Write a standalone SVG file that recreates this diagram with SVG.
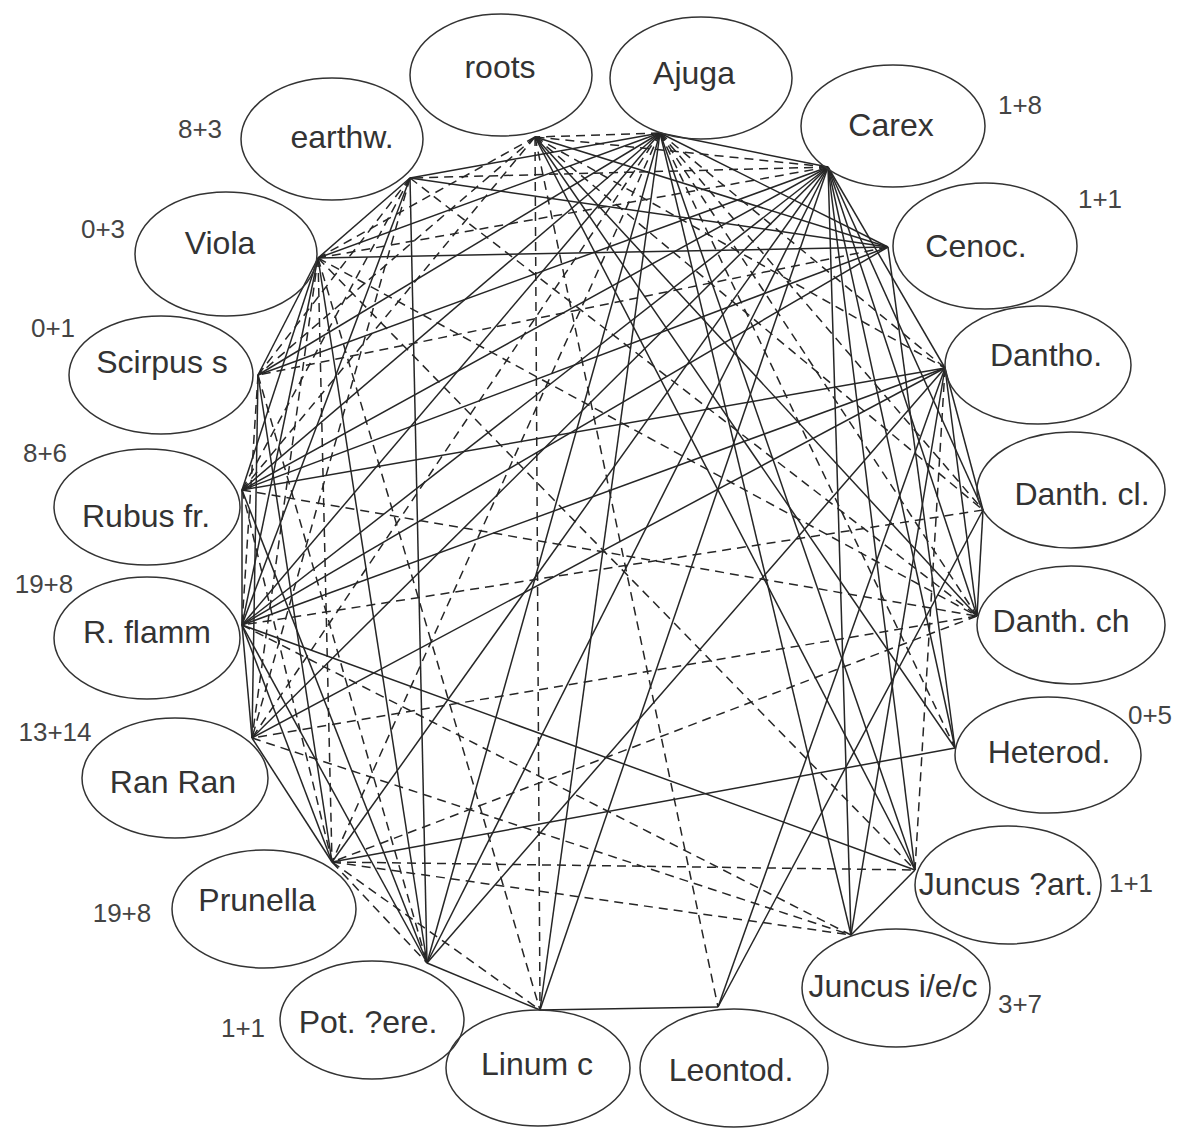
<svg xmlns="http://www.w3.org/2000/svg" width="1177" height="1129" viewBox="0 0 1177 1129">
<style>
.s{stroke:#262626;stroke-width:1.5;fill:none}
.d{stroke:#262626;stroke-width:1.5;fill:none;stroke-dasharray:9,6}
.n{fill:none;stroke:#333;stroke-width:1.5}
.t{font-family:"Liberation Sans",Arial,sans-serif;font-size:32px;fill:#333;text-anchor:middle}
.c{font-family:"Liberation Sans",Arial,sans-serif;font-size:26px;fill:#444;text-anchor:middle}
</style>
<rect width="1177" height="1129" fill="#fff"/>
<g id="connectors">
<!-- Carex -->
<line class="d" x1="828" y1="167" x2="410" y2="178"/>
<line class="d" x1="828" y1="167" x2="535" y2="137"/>
<line class="s" x1="828" y1="167" x2="660" y2="133"/>
<line class="d" x1="828" y1="167" x2="318" y2="258"/>
<line class="s" x1="828" y1="167" x2="258" y2="375"/>
<line class="s" x1="828" y1="167" x2="242" y2="490"/>
<line class="s" x1="828" y1="167" x2="242" y2="625"/>
<line class="s" x1="828" y1="167" x2="252" y2="738"/>
<line class="s" x1="828" y1="167" x2="332" y2="862"/>
<line class="s" x1="828" y1="167" x2="427" y2="963"/>
<line class="s" x1="828" y1="167" x2="540" y2="1010"/>
<line class="s" x1="828" y1="167" x2="851" y2="935"/>
<line class="s" x1="828" y1="167" x2="915" y2="870"/>
<line class="s" x1="828" y1="167" x2="955" y2="748"/>
<line class="s" x1="828" y1="167" x2="977" y2="616"/>
<line class="s" x1="828" y1="167" x2="983" y2="510"/>
<line class="s" x1="828" y1="167" x2="945" y2="368"/>
<!-- Ajuga -->
<line class="d" x1="660" y1="133" x2="535" y2="137"/>
<line class="s" x1="660" y1="133" x2="410" y2="178"/>
<line class="s" x1="660" y1="133" x2="888" y2="247"/>
<line class="s" x1="660" y1="133" x2="318" y2="258"/>
<line class="s" x1="660" y1="133" x2="258" y2="375"/>
<line class="s" x1="660" y1="133" x2="242" y2="490"/>
<line class="s" x1="660" y1="133" x2="242" y2="625"/>
<line class="d" x1="660" y1="133" x2="252" y2="738"/>
<line class="s" x1="660" y1="133" x2="427" y2="963"/>
<line class="s" x1="660" y1="133" x2="540" y2="1010"/>
<line class="d" x1="660" y1="133" x2="332" y2="862"/>
<line class="s" x1="660" y1="133" x2="915" y2="870"/>
<line class="d" x1="660" y1="133" x2="955" y2="748"/>
<line class="d" x1="660" y1="133" x2="977" y2="616"/>
<line class="d" x1="660" y1="133" x2="983" y2="510"/>
<line class="d" x1="660" y1="133" x2="945" y2="368"/>
<line class="s" x1="660" y1="133" x2="851" y2="935"/>
<!-- roots -->
<line class="s" x1="535" y1="137" x2="888" y2="247"/>
<line class="d" x1="535" y1="137" x2="318" y2="258"/>
<line class="d" x1="535" y1="137" x2="258" y2="375"/>
<line class="d" x1="535" y1="137" x2="242" y2="490"/>
<line class="d" x1="535" y1="137" x2="540" y2="1010"/>
<line class="d" x1="535" y1="137" x2="718" y2="1007"/>
<line class="s" x1="535" y1="137" x2="915" y2="870"/>
<line class="s" x1="535" y1="137" x2="977" y2="616"/>
<line class="d" x1="535" y1="137" x2="983" y2="510"/>
<line class="s" x1="535" y1="137" x2="955" y2="748"/>
<line class="d" x1="535" y1="137" x2="945" y2="368"/>
<!-- earthw -->
<line class="s" x1="410" y1="178" x2="888" y2="247"/>
<line class="s" x1="410" y1="178" x2="318" y2="258"/>
<line class="s" x1="410" y1="178" x2="427" y2="963"/>
<line class="d" x1="410" y1="178" x2="258" y2="375"/>
<line class="d" x1="410" y1="178" x2="242" y2="490"/>
<line class="s" x1="410" y1="178" x2="242" y2="625"/>
<line class="d" x1="410" y1="178" x2="252" y2="738"/>
<line class="d" x1="410" y1="178" x2="977" y2="616"/>
<!-- Viola -->
<line class="s" x1="318" y1="258" x2="888" y2="247"/>
<line class="s" x1="318" y1="258" x2="258" y2="375"/>
<line class="s" x1="318" y1="258" x2="242" y2="490"/>
<line class="s" x1="318" y1="258" x2="242" y2="625"/>
<line class="d" x1="318" y1="258" x2="252" y2="738"/>
<line class="d" x1="318" y1="258" x2="332" y2="862"/>
<line class="s" x1="318" y1="258" x2="427" y2="963"/>
<line class="d" x1="318" y1="258" x2="540" y2="1010"/>
<line class="d" x1="318" y1="258" x2="915" y2="870"/>
<line class="d" x1="318" y1="258" x2="977" y2="616"/>
<!-- Cenoc -->
<line class="s" x1="888" y1="247" x2="242" y2="625"/>
<line class="d" x1="888" y1="247" x2="258" y2="375"/>
<line class="s" x1="888" y1="247" x2="955" y2="748"/>
<line class="s" x1="888" y1="247" x2="242" y2="490"/>
<!-- Scirpus -->
<line class="s" x1="258" y1="375" x2="252" y2="738"/>
<line class="s" x1="258" y1="375" x2="332" y2="862"/>
<line class="d" x1="258" y1="375" x2="242" y2="625"/>
<line class="d" x1="258" y1="375" x2="427" y2="963"/>
<!-- Dantho -->
<line class="s" x1="945" y1="368" x2="242" y2="490"/>
<line class="s" x1="945" y1="368" x2="242" y2="625"/>
<line class="s" x1="945" y1="368" x2="983" y2="510"/>
<line class="s" x1="945" y1="368" x2="977" y2="616"/>
<line class="s" x1="945" y1="368" x2="851" y2="935"/>
<line class="s" x1="945" y1="368" x2="427" y2="963"/>
<line class="s" x1="945" y1="368" x2="718" y2="1007"/>
<line class="d" x1="945" y1="368" x2="915" y2="870"/>
<line class="s" x1="945" y1="368" x2="252" y2="738"/>
<!-- Rubus -->
<line class="s" x1="242" y1="490" x2="242" y2="625"/>
<line class="s" x1="242" y1="490" x2="427" y2="963"/>
<line class="d" x1="242" y1="490" x2="332" y2="862"/>
<line class="d" x1="242" y1="490" x2="977" y2="616"/>
<!-- Danth cl / ch -->
<line class="s" x1="983" y1="510" x2="977" y2="616"/>
<line class="d" x1="983" y1="510" x2="242" y2="625"/>
<line class="s" x1="983" y1="510" x2="718" y2="1007"/>
<line class="d" x1="977" y1="616" x2="252" y2="738"/>
<line class="d" x1="977" y1="616" x2="332" y2="862"/>
<!-- R. flamm -->
<line class="s" x1="242" y1="625" x2="915" y2="870"/>
<line class="d" x1="242" y1="625" x2="851" y2="935"/>
<line class="s" x1="242" y1="625" x2="332" y2="862"/>
<line class="s" x1="242" y1="625" x2="427" y2="963"/>
<line class="s" x1="242" y1="625" x2="252" y2="738"/>
<!-- Ran Ran -->
<line class="d" x1="252" y1="738" x2="851" y2="935"/>
<line class="s" x1="252" y1="738" x2="332" y2="862"/>
<!-- Prunella -->
<line class="s" x1="332" y1="862" x2="955" y2="748"/>
<line class="d" x1="332" y1="862" x2="427" y2="963"/>
<line class="d" x1="332" y1="862" x2="851" y2="935"/>
<line class="d" x1="332" y1="862" x2="540" y2="1010"/>
<line class="d" x1="332" y1="862" x2="915" y2="870"/>
<!-- bottom -->
<line class="s" x1="427" y1="963" x2="540" y2="1010"/>
<line class="s" x1="540" y1="1010" x2="718" y2="1007"/>
<line class="s" x1="915" y1="870" x2="851" y2="935"/>
</g>
<g id="node-roots"><ellipse class="n" cx="501" cy="75" rx="91" ry="61"/><text class="t" x="500" y="78">roots</text></g>
<g id="node-ajuga"><ellipse class="n" cx="701" cy="78" rx="91" ry="61"/><text class="t" x="694" y="84">Ajuga</text></g>
<g id="node-carex"><ellipse class="n" cx="893" cy="126" rx="92" ry="61"/><text class="t" x="891" y="136">Carex</text><text class="c" x="1020" y="114">1+8</text></g>
<g id="node-earthw"><ellipse class="n" cx="332" cy="139" rx="91" ry="61"/><text class="t" x="342" y="148">earthw.</text><text class="c" x="200" y="138">8+3</text></g>
<g id="node-viola"><ellipse class="n" cx="226" cy="254" rx="91" ry="62"/><text class="t" x="220" y="254">Viola</text><text class="c" x="103" y="238">0+3</text></g>
<g id="node-cenoc"><ellipse class="n" cx="985" cy="246" rx="92" ry="63"/><text class="t" x="976" y="257">Cenoc.</text><text class="c" x="1100" y="208">1+1</text></g>
<g id="node-scirpus"><ellipse class="n" cx="161" cy="375" rx="92" ry="59"/><text class="t" x="162" y="373">Scirpus s</text><text class="c" x="53" y="337">0+1</text></g>
<g id="node-dantho"><ellipse class="n" cx="1038" cy="365" rx="93" ry="59"/><text class="t" x="1046" y="366">Dantho.</text></g>
<g id="node-rubus"><ellipse class="n" cx="147" cy="507" rx="93" ry="58"/><text class="t" x="146" y="527">Rubus fr.</text><text class="c" x="45" y="462">8+6</text></g>
<g id="node-danthcl"><ellipse class="n" cx="1071" cy="490" rx="94" ry="58"/><text class="t" x="1082" y="505">Danth. cl.</text></g>
<g id="node-rflamm"><ellipse class="n" cx="147" cy="638" rx="93" ry="61"/><text class="t" x="147" y="643">R. flamm</text><text class="c" x="44" y="593">19+8</text></g>
<g id="node-danthch"><ellipse class="n" cx="1071" cy="625" rx="94" ry="59"/><text class="t" x="1061" y="632">Danth. ch</text></g>
<g id="node-ranran"><ellipse class="n" cx="175" cy="778" rx="93" ry="60"/><text class="t" x="173" y="793">Ran Ran</text><text class="c" x="55" y="741">13+14</text></g>
<g id="node-heterod"><ellipse class="n" cx="1048" cy="755" rx="93" ry="58"/><text class="t" x="1049" y="763">Heterod.</text><text class="c" x="1150" y="724">0+5</text></g>
<g id="node-prunella"><ellipse class="n" cx="264" cy="909" rx="92" ry="59"/><text class="t" x="257" y="911">Prunella</text><text class="c" x="122" y="922">19+8</text></g>
<g id="node-juncusart"><ellipse class="n" cx="1008" cy="885" rx="93" ry="59"/><text class="t" x="1006" y="895">Juncus ?art.</text><text class="c" x="1131" y="892">1+1</text></g>
<g id="node-juncusiec"><ellipse class="n" cx="896" cy="988" rx="94" ry="59"/><text class="t" x="893" y="997">Juncus i/e/c</text><text class="c" x="1020" y="1013">3+7</text></g>
<g id="node-pot"><ellipse class="n" cx="372" cy="1020" rx="92" ry="59"/><text class="t" x="368" y="1033">Pot. ?ere.</text><text class="c" x="243" y="1037">1+1</text></g>
<g id="node-linum"><ellipse class="n" cx="538" cy="1068" rx="92" ry="58"/><text class="t" x="537" y="1075">Linum c</text></g>
<g id="node-leontod"><ellipse class="n" cx="734" cy="1068" rx="94" ry="59"/><text class="t" x="731" y="1081">Leontod.</text></g>
</svg>
